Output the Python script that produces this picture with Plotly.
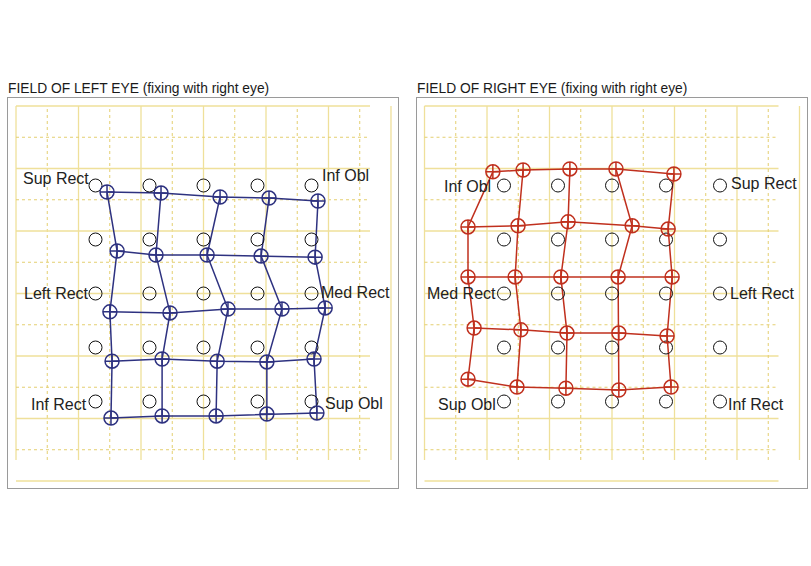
import plotly.graph_objects as go

# ---------------- data (degrees) ----------------
ref_pos = [-30, -15, 0, 15, 30]          # normal dot positions (x and y)

# Left eye (blue) measured points, rows top->bottom, columns left->right
left_x = [
    [-26.8, -11.8, 4.6, 18.2, 31.8],
    [-24.0, -13.2, 1.0, 16.0, 31.0],
    [-26.0, -9.3, 6.8, 21.8, 33.8],
    [-25.4, -11.5, 3.8, 17.6, 30.7],
    [-25.7, -11.5, 3.5, 17.6, 31.5],
]
left_y = [
    [28.2, 27.9, 26.8, 26.5, 25.7],
    [11.8, 10.7, 10.7, 10.4, 10.1],
    [-5.1, -5.4, -4.3, -4.3, -4.0],
    [-18.8, -18.2, -18.8, -19.0, -18.2],
    [-34.6, -34.0, -34.0, -33.5, -33.2],
]

# Right eye (red) measured points
right_x = [
    [-33.1, -24.7, -11.7, 1.1, 17.2],
    [-40.0, -26.1, -12.2, 5.6, 15.6],
    [-40.0, -26.9, -14.2, 1.7, 16.7],
    [-38.3, -25.3, -12.5, 1.9, 15.3],
    [-40.0, -26.4, -12.8, 1.9, 16.4],
]
right_y = [
    [33.8, 34.3, 34.6, 34.6, 33.2],
    [18.5, 18.8, 19.9, 18.8, 17.9],
    [4.6, 4.6, 4.6, 4.6, 4.6],
    [-9.6, -10.1, -11.0, -11.0, -11.8],
    [-23.8, -26.0, -26.3, -26.8, -26.0],
]

left_labels = ["Sup Rect", "Inf Obl", "Left Rect", "Med Rect", "Inf Rect", "Sup Obl"]
right_labels = ["Inf Obl", "Sup Rect", "Med Rect", "Left Rect", "Sup Obl", "Inf Rect"]
label_dot_x = [-30, 30, -30, 30, -30, 30]
label_dot_y = [30, 30, 0, 0, -30, -30]

titles = ["FIELD OF LEFT EYE (fixing with right eye)",
          "FIELD OF RIGHT EYE (fixing with right eye)"]

grid_step = 8.68
grid_k = list(range(-6, 7))

# ---------------- figure ----------------
W, H = 811, 566
fig = go.Figure()

BLUE = "#2e3280"
RED = "#c0301e"
SOLID = "#efe09a"
DASH = "#e4cf70"

# pixel frame boxes
frames = [(8, 398), (417, 807)]
ytop, ybot = 98, 488
centers_px = [203.5, 612]
cy_px = 293.5
ppd = 3.6  # px per degree


def add_grid(xref, yref):
    y_top = 6 * grid_step
    y_bot = -46.25
    x_left = -6 * grid_step
    x_right = 46.25
    for k in grid_k:
        solid = (k % 2 == 0)
        line = dict(color=SOLID if solid else DASH, width=1.3 if solid else 1,
                    dash="solid" if solid else "dot")
        v = k * grid_step
        fig.add_shape(type="line", xref=xref, yref=yref, x0=v, x1=v,
                      y0=y_bot, y1=y_top, line=line, layer="below")
        fig.add_shape(type="line", xref=xref, yref=yref, x0=x_left, x1=x_right,
                      y0=v, y1=v, line=line, layer="below")


def add_eye(xs, ys, color, xa, ya):
    lx, ly = [], []
    for r in range(5):
        lx += xs[r] + [None]
        ly += ys[r] + [None]
    for c in range(5):
        lx += [xs[r][c] for r in range(5)] + [None]
        ly += [ys[r][c] for r in range(5)] + [None]
    fig.add_trace(go.Scatter(x=lx, y=ly, mode="lines", line=dict(color=color, width=1.5),
                             xaxis=xa, yaxis=ya, hoverinfo="skip", showlegend=False))
    # reference dots
    rx = [x for y in ref_pos for x in ref_pos]
    ry = [y for y in ref_pos[::-1] for x in ref_pos]
    fig.add_trace(go.Scatter(x=rx, y=ry, mode="markers",
                             marker=dict(symbol="circle-open", size=13, color="#111",
                                         line=dict(width=1)),
                             xaxis=xa, yaxis=ya, hoverinfo="skip", showlegend=False))
    fig.add_trace(go.Scatter(x=[v for row in xs for v in row], y=[v for row in ys for v in row],
                             mode="markers",
                             marker=dict(symbol="circle-cross-open", size=14, color=color,
                                         line=dict(width=1.5)),
                             xaxis=xa, yaxis=ya, hoverinfo="skip", showlegend=False))


add_grid("x", "y")
add_grid("x2", "y2")
add_eye(left_x, left_y, BLUE, "x", "y")
add_eye(right_x, right_y, RED, "x2", "y2")

# labels
left_shift = [(-5, 7), (8, 10), (-5, 0), (7, 1), (-7, -3), (11, -2)]
right_shift = [(-11, -1), (9, 2), (-6, 0), (8, 0), (-6, -3), (6, -3)]
for labels, shifts, xr, yr in [(left_labels, left_shift, "x", "y"),
                               (right_labels, right_shift, "x2", "y2")]:
    for t, (dx, dy), lx, ly in zip(labels, shifts, label_dot_x, label_dot_y):
        fig.add_annotation(x=lx, y=ly, xref=xr, yref=yr, text=t, showarrow=False,
                           xanchor="right" if dx < 0 else "left", yanchor="middle",
                           xshift=dx, yshift=dy,
                           font=dict(family="Liberation Sans, Arial", size=16, color="#222"))

for i, t in enumerate(titles):
    fig.add_annotation(x=(frames[i][0] - 2) / W, y=1 - 88 / H, xref="paper", yref="paper",
                       text=t, showarrow=False, xanchor="left", yanchor="middle",
                       font=dict(family="Liberation Sans, Arial", size=13.8, color="#1a1a1a"))

axis_common = dict(showgrid=False, zeroline=False, showticklabels=False, ticks="",
                   showline=True, mirror=True, linecolor="#9a9a9a", linewidth=1)
layout_axes = {}
for i, (f0, f1) in enumerate(frames):
    cx = centers_px[i]
    xr = [(f0 - cx) / ppd, (f1 - cx) / ppd]
    yr = [(cy_px - ybot) / ppd, (cy_px - ytop) / ppd]
    sfx = "" if i == 0 else str(i + 1)
    layout_axes["xaxis" + sfx] = dict(axis_common, domain=[f0 / W, f1 / W], range=xr,
                                      anchor="y" + sfx)
    layout_axes["yaxis" + sfx] = dict(axis_common, domain=[1 - ybot / H, 1 - ytop / H],
                                      range=yr, anchor="x" + sfx)

fig.update_layout(width=W, height=H, margin=dict(l=0, r=0, t=0, b=0),
                  paper_bgcolor="white", plot_bgcolor="white", **layout_axes)

fig.write_html("out.html")
